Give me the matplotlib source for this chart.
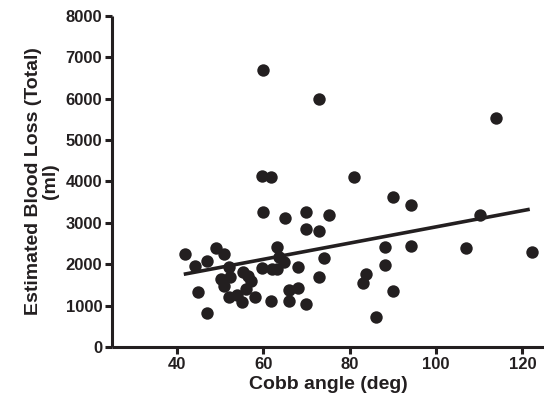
import numpy as np
import matplotlib
matplotlib.use("Agg")
import matplotlib.pyplot as plt

# Cobb angle (deg) vs estimated blood loss (ml)
cobb = [41.9, 44.1, 47.0, 49.0, 51.0, 44.8, 47.0, 50.2, 50.9, 52.0,
        52.3, 52.1, 53.9, 55.1, 55.2, 56.5, 57.2, 56.0, 58.2, 59.8,
        59.9, 60.0, 59.8, 61.9, 62.1, 63.2, 63.1, 63.7, 64.9, 61.9,
        65.0, 66.0, 66.0, 68.0, 68.0, 69.9, 69.9, 69.9, 72.8, 72.8,
        73.0, 74.0, 75.2, 80.9, 83.9, 83.1, 86.2, 88.1, 88.1, 90.1,
        90.1, 94.2, 94.2, 107.0, 110.1, 114.0, 122.3]
ebl = [2250, 1960, 2080, 2390, 2250, 1330, 810, 1650, 1480, 1920,
       1700, 1200, 1250, 1080, 1820, 1720, 1590, 1390, 1200, 1900,
       3250, 6680, 4130, 4100, 1880, 1880, 2420, 2180, 2060, 1100,
       3110, 1380, 1110, 1420, 1930, 1050, 3270, 2840, 2790, 1700,
       5990, 2160, 3190, 4110, 1760, 1550, 730, 2420, 1980, 3620,
       1360, 3420, 2440, 2390, 3190, 5530, 2300]

# regression line end points
fit_x = [41.6, 121.7]
fit_y = [1756, 3326]

ink = "#231f20"
plt.rcParams["font.family"] = ["Liberation Sans", "DejaVu Sans"]
plt.rcParams["font.weight"] = "bold"

fig = plt.figure(figsize=(5.44, 4.03), dpi=100)
ax = fig.add_axes([0.206, 0.139, 0.794, 0.822])

ax.scatter(cobb, ebl, s=80, color=ink, zorder=3, linewidths=0)
ax.plot(fit_x, fit_y, color=ink, lw=2.6, solid_capstyle="butt", zorder=2)

ax.set_xlim(25, 125)
ax.set_ylim(0, 8000)
ax.set_xticks([40, 60, 80, 100, 120])
ax.set_yticks(range(0, 8001, 1000))

for s in ["top", "right"]:
    ax.spines[s].set_visible(False)
for s in ["left", "bottom"]:
    ax.spines[s].set_linewidth(2.2)
    ax.spines[s].set_color(ink)
    ax.spines[s].set_capstyle("butt")
ax.tick_params(direction="out", length=5, width=2.2, color=ink,
               labelsize=12, labelcolor=ink, pad=2)
for lab in ax.get_xticklabels() + ax.get_yticklabels():
    lab.set_fontweight("bold")

ax.set_xlabel("Cobb angle (deg)", fontsize=14, fontweight="bold", color=ink, labelpad=3)
ax.set_ylabel("Estimated Blood Loss (Total)\n(ml)", fontsize=14, fontweight="bold",
              color=ink, labelpad=5, linespacing=1.0)

fig.savefig("out.png", dpi=100)
